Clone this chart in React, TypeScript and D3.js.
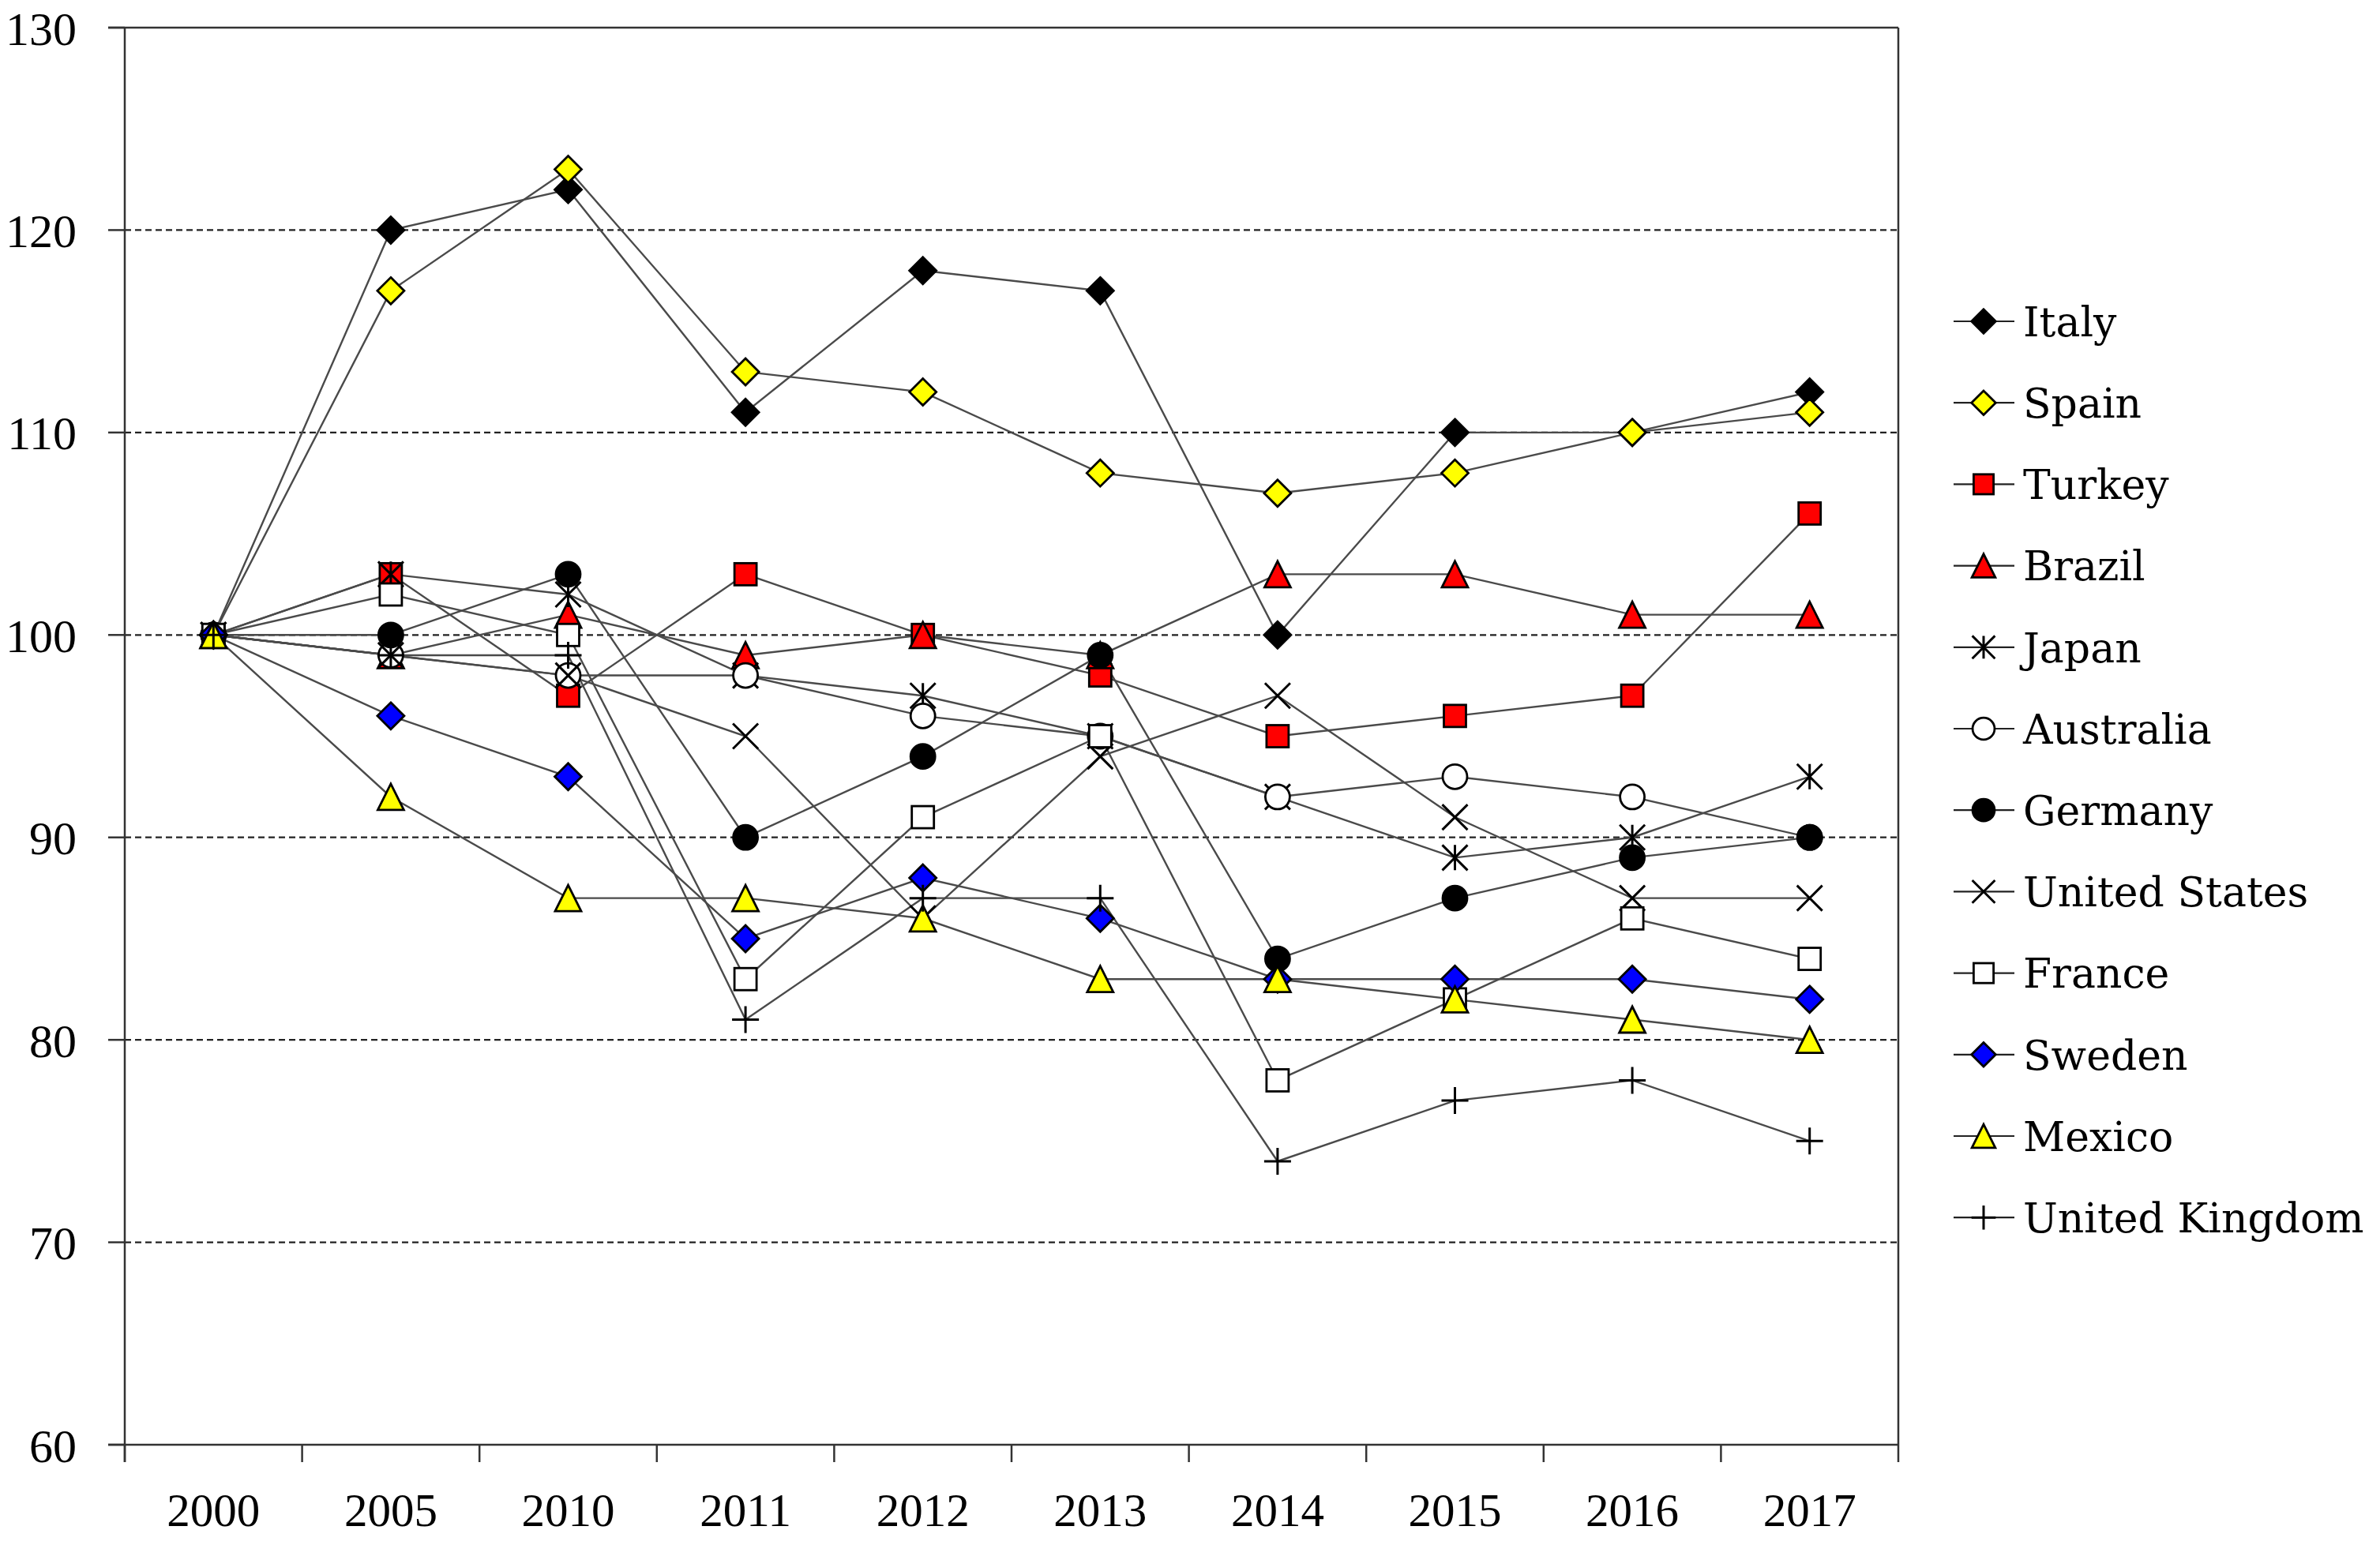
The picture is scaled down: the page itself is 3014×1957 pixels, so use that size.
import React from "react";
import * as d3 from "d3";

const years = ["2000", "2005", "2010", "2011", "2012", "2013", "2014", "2015", "2016", "2017"];
const yTicks = [60, 70, 80, 90, 100, 110, 120, 130];

const italy = [100, 120, 122, 111, 118, 117, 100, 110, 110, 112];
const spain = [100, 117, 123, 113, 112, 108, 107, 108, 110, 111];
const turkey = [100, 103, 97, 103, 100, 98, 95, 96, 97, 106];
const brazil = [100, 99, 101, 99, 100, 99, 103, 103, 101, 101];
const japan = [100, 103, 102, 98, 97, 95, 92, 89, 90, 93];
const australia = [100, 99, 98, 98, 96, 95, 92, 93, 92, 90];
const germany = [100, 100, 103, 90, 94, 99, 84, 87, 89, 90];
const unitedStates = [100, 99, 98, 95, 86, 94, 97, 91, 87, 87];
const france = [100, 102, 100, 83, 91, 95, 78, 82, 86, 84];
const sweden = [100, 96, 93, 85, 88, 86, 83, 83, 83, 82];
const mexico = [100, 92, 87, 87, 86, 83, 83, 82, 81, 80];
const unitedKingdom = [100, 99, 99, 81, 87, 87, 74, 77, 78, 75];

type Shape = "diamond" | "square" | "triangle" | "asterisk" | "circle" | "x" | "plus";

const series: { name: string; values: number[]; shape: Shape; fill: string }[] = [
  { name: "Italy", values: italy, shape: "diamond", fill: "#000000" },
  { name: "Spain", values: spain, shape: "diamond", fill: "#FFFF00" },
  { name: "Turkey", values: turkey, shape: "square", fill: "#FF0000" },
  { name: "Brazil", values: brazil, shape: "triangle", fill: "#FF0000" },
  { name: "Japan", values: japan, shape: "asterisk", fill: "none" },
  { name: "Australia", values: australia, shape: "circle", fill: "#FFFFFF" },
  { name: "Germany", values: germany, shape: "circle", fill: "#000000" },
  { name: "United States", values: unitedStates, shape: "x", fill: "none" },
  { name: "France", values: france, shape: "square", fill: "#FFFFFF" },
  { name: "Sweden", values: sweden, shape: "diamond", fill: "#0000FF" },
  { name: "Mexico", values: mexico, shape: "triangle", fill: "#FFFF00" },
  { name: "United Kingdom", values: unitedKingdom, shape: "plus", fill: "none" },
];

const W = 3014;
const H = 1957;
const L = 158;
const R = 2404;
const T = 35;
const B = 1830;

function Marker({ shape, fill, cx, cy, s = 1 }: { shape: Shape; fill: string; cx: number; cy: number; s?: number }) {
  const sw = 2.8;
  switch (shape) {
    case "diamond": {
      const h = 17 * s;
      return <path d={`M${cx},${cy - h}L${cx + h},${cy}L${cx},${cy + h}L${cx - h},${cy}Z`} fill={fill} stroke="#000" strokeWidth={sw} />;
    }
    case "square": {
      const h = 14 * s;
      return <rect x={cx - h} y={cy - h} width={2 * h} height={2 * h} fill={fill} stroke="#000" strokeWidth={sw} />;
    }
    case "triangle": {
      const h = 16.5 * s;
      return <path d={`M${cx},${cy - h}L${cx + h},${cy + h}L${cx - h},${cy + h}Z`} fill={fill} stroke="#000" strokeWidth={sw} />;
    }
    case "circle":
      return <circle cx={cx} cy={cy} r={15.5 * s} fill={fill} stroke="#000" strokeWidth={sw} />;
    case "asterisk": {
      const h = 16 * s;
      return (
        <path d={`M${cx - h},${cy - h}L${cx + h},${cy + h}M${cx + h},${cy - h}L${cx - h},${cy + h}M${cx},${cy - h}L${cx},${cy + h}`} stroke="#000" strokeWidth={3} fill="none" />
      );
    }
    case "x": {
      const h = 16 * s;
      return <path d={`M${cx - h},${cy - h}L${cx + h},${cy + h}M${cx + h},${cy - h}L${cx - h},${cy + h}`} stroke="#000" strokeWidth={3} fill="none" />;
    }
    case "plus": {
      const h = 17 * s;
      return <path d={`M${cx - h},${cy}L${cx + h},${cy}M${cx},${cy - h}L${cx},${cy + h}`} stroke="#000" strokeWidth={3} fill="none" />;
    }
  }
  return null;
}

export default function App() {
  const x = d3.scaleBand<string>().domain(years).range([L, R]).padding(0);
  const y = d3.scaleLinear().domain([60, 130]).range([B, T]);
  const bw = x.bandwidth();
  const cx = (yr: string) => (x(yr) as number) + bw / 2;
  const line = d3
    .line<number>()
    .x((_, i) => cx(years[i]))
    .y((v) => y(v));

  const boundaries = years.map((yr) => x(yr) as number).concat([R]);
  const legendY0 = 407;
  const legendStep = 103.2;

  return (
    <div style={{ position: "absolute", left: 0, top: 0 }}>
      <svg width={W} height={H} viewBox={`0 0 ${W} ${H}`} style={{ display: "block", background: "#fff" }}>
        <rect x={0} y={0} width={W} height={H} fill="#fff" />
        {/* gridlines */}
        {yTicks
          .filter((t) => t > 60 && t < 130)
          .map((t) => (
            <line key={"g" + t} x1={L} x2={R} y1={y(t)} y2={y(t)} stroke="#222" strokeWidth={2.2} strokeDasharray="8 5" />
          ))}
        {/* frame */}
        <line x1={L - 21} x2={R} y1={T} y2={T} stroke="#333" strokeWidth={2.5} />
        <line x1={R} x2={R} y1={T} y2={B} stroke="#333" strokeWidth={2.5} />
        <line x1={L} x2={L} y1={T} y2={B + 22} stroke="#333" strokeWidth={2.5} />
        <line x1={L - 21} x2={R} y1={B} y2={B} stroke="#333" strokeWidth={2.5} />
        {/* y ticks */}
        {yTicks.map((t) => (
          <g key={"yt" + t}>
            <line x1={L - 21} x2={L} y1={y(t)} y2={y(t)} stroke="#333" strokeWidth={2.5} />
            <text x={97} y={y(t)} dy="0.36em" textAnchor="end" fontFamily="'Liberation Serif', 'Times New Roman', serif" fontSize={60} fill="#000">
              {t}
            </text>
          </g>
        ))}
        {/* x ticks */}
        {boundaries.map((bx, i) => (
          <line key={"xt" + i} x1={bx} x2={bx} y1={B} y2={B + 22} stroke="#333" strokeWidth={2.5} />
        ))}
        {years.map((yr) => (
          <text key={"xl" + yr} x={cx(yr)} y={1933} textAnchor="middle" fontFamily="'Liberation Serif', 'Times New Roman', serif" fontSize={59} fill="#000">
            {yr}
          </text>
        ))}
        {/* lines */}
        {series.map((s) => (
          <path key={"l" + s.name} d={line(s.values) || ""} fill="none" stroke="#4a4a4a" strokeWidth={2.4} />
        ))}
        {/* markers */}
        {series.map((s) => (
          <g key={"m" + s.name}>
            {s.values.map((v, i) => (
              <Marker key={i} shape={s.shape} fill={s.fill} cx={cx(years[i])} cy={y(v)} />
            ))}
          </g>
        ))}
        {/* legend */}
        {series.map((s, i) => {
          const ly = legendY0 + i * legendStep;
          return (
            <g key={"lg" + s.name}>
              <line x1={2474} x2={2551} y1={ly} y2={ly} stroke="#222" strokeWidth={2.2} />
              <Marker shape={s.shape} fill={s.fill} cx={2512} cy={ly} s={0.9} />
              <text x={2562} y={ly} dy="0.36em" fontFamily="'DejaVu Serif', serif" fontSize={52} fill="#000">
                {s.name}
              </text>
            </g>
          );
        })}
      </svg>
    </div>
  );
}
